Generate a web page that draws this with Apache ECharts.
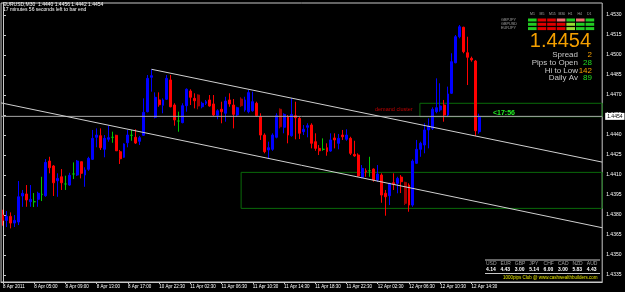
<!DOCTYPE html>
<html><head><meta charset="utf-8">
<script src="https://cdn.jsdelivr.net/npm/echarts@6/dist/echarts.min.js"></script>
<style>html,body{margin:0;padding:0;background:#000;}#c{width:625px;height:292px;}</style>
</head><body><div id="c"></div>
<script>
// ---- data ----
const shiftBars = 31;       // empty chart shift on the right
// [open, close, low, high]
const ohlc = [
[1.43800,1.43760,1.43720,1.43840],[1.43760,1.43790,1.43710,1.43830],[1.43790,1.43740,1.43700,1.43820],[1.43740,1.43760,1.43710,1.43800],
[1.43748,1.43937,1.43725,1.44055],[1.43943,1.43963,1.43862,1.43988],[1.43958,1.43913,1.43862,1.44025],[1.43900,1.43918,1.43862,1.44025],
[1.43900,1.43900,1.43860,1.43965],[1.43918,1.43963,1.43862,1.43975],[1.43955,1.43955,1.43905,1.44087],[1.43945,1.44195,1.43937,1.44220],
[1.44205,1.44155,1.44113,1.44237],[1.44168,1.44042,1.43943,1.44175],[1.44057,1.44075,1.43937,1.44113],[1.44087,1.44042,1.43988,1.44145],
[1.44033,1.44033,1.43988,1.44095],[1.44025,1.44098,1.44020,1.44117],[1.44108,1.44108,1.44070,1.44195],[1.44100,1.44205,1.44093,1.44213],
[1.44200,1.44113,1.44075,1.44200],[1.44100,1.44138,1.44012,1.44158],[1.44143,1.44225,1.44132,1.44237],[1.44218,1.44375,1.44213,1.44438],
[1.44383,1.44400,1.44308,1.44450],[1.44395,1.44305,1.44288,1.44450],[1.44293,1.44375,1.44233,1.44400],[1.44368,1.44380,1.44350,1.44470],
[1.44383,1.44383,1.44342,1.44425],[1.44398,1.44282,1.44280,1.44402],[1.44275,1.44222,1.44183,1.44288],[1.44233,1.44333,1.44230,1.44338],
[1.44342,1.44400,1.44308,1.44438],[1.44398,1.44398,1.44357,1.44438],[1.44383,1.44340,1.44333,1.44443],[1.44353,1.44380,1.44325,1.44393],
[1.44398,1.44570,1.44393,1.44675],[1.44575,1.44825,1.44570,1.44850],[1.44833,1.44845,1.44725,1.44893],[1.44533,1.44683,1.44525,1.44720],
[1.44663,1.44627,1.44612,1.44720],[1.44623,1.44663,1.44563,1.44675],[1.44668,1.44825,1.44663,1.44850],[1.44813,1.44612,1.44608,1.44850],
[1.44625,1.44513,1.44470,1.44638],[1.44505,1.44505,1.44425,1.44575],[1.44493,1.44620,1.44488,1.44638],[1.44620,1.44743,1.44575,1.44750],
[1.44730,1.44683,1.44625,1.44743],[1.44675,1.44657,1.44600,1.44713],[1.44700,1.44618,1.44593,1.44705],[1.44612,1.44638,1.44600,1.44650],
[1.44638,1.44650,1.44625,1.44663],[1.44663,1.44618,1.44612,1.44700],[1.44633,1.44550,1.44543,1.44700],[1.44548,1.44582,1.44518,1.44593],
[1.44593,1.44575,1.44488,1.44650],[1.44563,1.44655,1.44500,1.44687],[1.44663,1.44633,1.44612,1.44713],[1.44625,1.44555,1.44450,1.44670],
[1.44550,1.44605,1.44537,1.44612],[1.44670,1.44620,1.44612,1.44683],[1.44588,1.44663,1.44575,1.44687],[1.44575,1.44718,1.44563,1.44738],
[1.44582,1.44650,1.44575,1.44725],[1.44638,1.44545,1.44537,1.44650],[1.44537,1.44400,1.44363,1.44563],[1.44400,1.44275,1.44263,1.44413],
[1.44288,1.44305,1.44225,1.44350],[1.44293,1.44400,1.44282,1.44413],[1.44383,1.44545,1.44375,1.44563],[1.44593,1.44462,1.44450,1.44600],
[1.44458,1.44555,1.44413,1.44563],[1.44537,1.44400,1.44338,1.44550],[1.44395,1.44555,1.44387,1.44675],[1.44545,1.44530,1.44368,1.44650],
[1.44525,1.44413,1.44370,1.44537],[1.44425,1.44443,1.44400,1.44475],[1.44458,1.44470,1.44383,1.44488],[1.44475,1.44338,1.44300,1.44488],
[1.44350,1.44300,1.44282,1.44413],[1.44300,1.44282,1.44250,1.44325],[1.44293,1.44293,1.44282,1.44375],[1.44305,1.44275,1.44245,1.44338],
[1.44280,1.44363,1.44275,1.44413],[1.44378,1.44363,1.44300,1.44413],[1.44338,1.44375,1.44293,1.44408],[1.44400,1.44387,1.44363,1.44438],
[1.44368,1.44400,1.44357,1.44443],[1.44375,1.44263,1.44250,1.44387],[1.44255,1.44243,1.44237,1.44357],[1.44250,1.44093,1.44087,1.44263],
[1.44083,1.44150,1.44075,1.44175],[1.44132,1.44125,1.44087,1.44150],[1.44132,1.44132,1.44087,1.44237],[1.44145,1.44063,1.44050,1.44150],
[1.44063,1.44108,1.44050,1.44175],[1.44100,1.43950,1.43892,1.44113],[1.43963,1.43937,1.43795,1.43988],[1.43945,1.44038,1.43875,1.44042],
[1.44042,1.44033,1.43988,1.44113],[1.44038,1.44075,1.43963,1.44087],[1.44085,1.44050,1.43965,1.44100],[1.44045,1.43888,1.43875,1.44050],
[1.44025,1.43875,1.43825,1.44038],[1.43875,1.44205,1.43862,1.44218],[1.44188,1.44293,1.44183,1.44363],[1.44293,1.44338,1.44237,1.44350],
[1.44325,1.44438,1.44263,1.44488],[1.44438,1.44468,1.44300,1.44525],[1.44450,1.44593,1.44438,1.44608],[1.44575,1.44605,1.44563,1.44825],
[1.44588,1.44618,1.44575,1.44788],[1.44625,1.44550,1.44500,1.44663],[1.44550,1.44708,1.44537,1.44763],[1.44713,1.44950,1.44708,1.45013],
[1.44942,1.45137,1.44938,1.45150],[1.45137,1.45212,1.45125,1.45225],[1.45208,1.45025,1.45013,1.45212],[1.45017,1.44983,1.44775,1.45137],
[1.44975,1.44963,1.44950,1.44988],[1.44955,1.44432,1.44393,1.44963],[1.44425,1.44540,1.44410,1.44560]
];
const dimBars = [51,62,72,104];   // 1-based positions in ohlc drawn in dark red
const priceTicks = [1.4335,1.4350,1.4365,1.4380,1.4395,1.4410,1.4425,1.4440,1.4455,1.4470,1.4485,1.4500,1.4515,1.4530];
const timeTicks = {0:'8 Apr 2011',8:'8 Apr 05:00',16:'8 Apr 09:00',24:'8 Apr 13:00',32:'8 Apr 17:00',40:'10 Apr 22:30',
  48:'11 Apr 02:30',56:'11 Apr 06:30',64:'11 Apr 10:30',72:'11 Apr 14:30',80:'11 Apr 18:30',88:'11 Apr 22:30',
  96:'12 Apr 02:30',104:'12 Apr 06:30',112:'12 Apr 10:30',120:'12 Apr 14:30'};
const bid = 1.4454;
// trend lines: [barIndex, price]
const trendUpper = [[38.05,1.44893],[153.5,1.44197]];
const trendLower = [[-0.5,1.44641],[153.5,1.43705]];
const zoneLow = {from:[61.0,1.4412], to:[153.5,1.4385]};
const zoneDemand = {from:[106.8,1.44638], to:[153.5,1.44537]};
const strengthCur = ['USD','EUR','GBP','JPY','CHF','CAD','NZD','AUD'];
const strengthVal = ['4.14','4.43','3.00','5.14','6.00','3.00','5.83','4.43'];
const tfHeads = ['M1','M5','M15','M30','H1','H4','D1'];
const tfPairs = ['GBPJPY','GBPUSD','EURJPY'];
const tfState = [[1,-1,-1,-2,1,-2,1],[1,-1,-1,-1,2,1,1],[1,-1,-1,-1,2,1,1]];

// ---- build ----
const total = ohlc.length + shiftBars;
const cats = Array.from({length:total}, (_, i) => String(i));
const seriesData = [];
ohlc.forEach((d, k) => {
  const item = {value: d};
  if (d[0] === d[1]) item.itemStyle = {color:'#00c800', color0:'#00c800', borderColor:'#00c800', borderColor0:'#00c800', borderColorDoji:'#00c800'};
  else if (dimBars.includes(k + 1)) item.itemStyle = {color:'#a00000', color0:'#a00000', borderColor:'#a00000', borderColor0:'#a00000'};
  seriesData.push(item);
});

const FONT = 'Liberation Sans, Arial, sans-serif';
const chart = echarts.init(document.getElementById('c'), null, {renderer:'canvas', width:625, height:292});

const graphic = [
  {type:'text', left:3, top:2, style:{text:'EURUSD,M30  1.4440 1.4456 1.4442 1.4454', fill:'#fff', font:'5px '+FONT}},
  {type:'text', left:3, top:7.5, style:{text:'17 minutes 56 seconds left to bar end', fill:'#fff', font:'5px '+FONT}},
  {type:'text', right:34, top:31, style:{text:'1.4454', fill:'#f5a000', font:'20px '+FONT, align:'right'}},
  {type:'text', right:47, top:51, style:{text:'Spread', fill:'#c8c8c8', font:'8px '+FONT}},
  {type:'text', right:47, top:59, style:{text:'Pips to Open', fill:'#c8c8c8', font:'8px '+FONT}},
  {type:'text', right:47, top:66.5, style:{text:'Hi to Low', fill:'#c8c8c8', font:'8px '+FONT}},
  {type:'text', right:47, top:74, style:{text:'Daily Av', fill:'#c8c8c8', font:'8px '+FONT}},
  {type:'text', right:33, top:51, style:{text:'2', fill:'#f5a000', font:'8px '+FONT}},
  {type:'text', right:33, top:59, style:{text:'28', fill:'#22dd22', font:'8px '+FONT}},
  {type:'text', right:33, top:66.5, style:{text:'142', fill:'#f5a000', font:'8px '+FONT}},
  {type:'text', right:33, top:74, style:{text:'89', fill:'#22dd22', font:'8px '+FONT}},
  {type:'text', left:375, top:106, style:{text:'demand cluster', fill:'#c00000', font:'5.5px '+FONT}},
  {type:'text', left:493, top:110, style:{text:'<17:56', fill:'#22ee22', font:'bold 7px '+FONT}},
  {type:'line', shape:{x1:485,y1:260,x2:600,y2:260}, style:{stroke:'#c8c8c8', lineWidth:1}},
  {type:'line', shape:{x1:485,y1:273.5,x2:600,y2:273.5}, style:{stroke:'#c8c8c8', lineWidth:1}},
  {type:'text', left:503, top:275, style:{text:'1000pips Club @ www.cashwealthbuilders.com', fill:'#e6e600', font:'4.5px '+FONT}}
];
strengthCur.forEach((c, i) => {
  graphic.push({type:'text', left:486 + i*14.4, top:261.5, style:{text:c, fill:'#a0a0a0', font:'5px '+FONT}});
  graphic.push({type:'text', left:486 + i*14.4, top:267.5, style:{text:strengthVal[i], fill:'#fff', font:'bold 5px '+FONT}});
});
const cellCol = {'1':'#22cc22','-1':'#e00000','-2':'#f07070','2':'#99dd33'};
tfHeads.forEach((h, j) => {
  graphic.push({type:'text', left:530 + j*9.5, top:12.5, style:{text:h, fill:'#a0a0a0', font:'3.5px '+FONT}});
});
tfPairs.forEach((p, r) => {
  graphic.push({type:'text', left:501, top:17.5 + r*4.3, style:{text:p, fill:'#a0a0a0', font:'3.8px '+FONT}});
  tfState[r].forEach((s, j) => {
    graphic.push({type:'rect', shape:{x:528 + j*9.6, y:18.5 + r*4.3, width:8.6, height:3}, style:{fill:cellCol[String(s)]}});
  });
});

chart.setOption({
  backgroundColor:'#000',
  animation:false,
  grid:{left:0.72, right:22.8, top:3, bottom:10, show:true, borderColor:'#c8c8c8', borderWidth:1, backgroundColor:'#000'},
  xAxis:[{
    type:'category', data:cats, boundaryGap:true,
    axisLine:{show:true, lineStyle:{color:'#c8c8c8'}},
    axisTick:{show:true, alignWithLabel:true, length:2, interval:(i)=>timeTicks[i]!==undefined, lineStyle:{color:'#c8c8c8'}},
    axisLabel:{show:true, interval:(i)=>timeTicks[i]!==undefined, formatter:(v,i)=>timeTicks[i]||'', align:'left', margin:2, fontSize:4.5, color:'#fff', fontFamily:FONT},
    splitLine:{show:false}
  },{
    type:'value', min:-0.5, max:total-0.5, show:false
  }],
  yAxis:{
    type:'value', position:'right', min:1.43298, max:1.4539, scale:true,
    axisLine:{show:true, lineStyle:{color:'#c8c8c8'}},
    axisTick:{show:true, length:3, customValues:priceTicks, lineStyle:{color:'#c8c8c8'}},
    axisLabel:{show:true, customValues:priceTicks, formatter:(v)=>v.toFixed(4), margin:4, fontSize:5, color:'#fff', fontFamily:FONT},
    splitLine:{show:false}
  },
  graphic: graphic,
  series:[{
    type:'candlestick', data:seriesData, barWidth:2.4,
    itemStyle:{color:'#0000ff', color0:'#ff0000', borderColor:'#0000ff', borderColor0:'#ff0000', borderWidth:1}
  },{
    type:'line', xAxisIndex:1, data:[[-0.5,bid],[total-0.5,bid]], symbol:'none', silent:true,
    lineStyle:{color:'#a8a8a8', width:1},
    endLabel:{show:true, formatter:bid.toFixed(4), backgroundColor:'#fff', color:'#000', fontSize:5, padding:[1,2], distance:3, fontFamily:FONT}
  },{
    type:'line', xAxisIndex:1, data:trendUpper, symbol:'none', silent:true,
    lineStyle:{color:'#d0d0d0', width:1}
  },{
    type:'line', xAxisIndex:1, data:trendLower, symbol:'none', silent:true,
    lineStyle:{color:'#d0d0d0', width:1}
  },{
    type:'line', xAxisIndex:1, data:[], silent:true,
    markArea:{silent:true, itemStyle:{color:'rgba(0,0,0,0)', borderColor:'#0a6a0a', borderWidth:1},
      data:[[{coord:zoneLow.from},{coord:zoneLow.to}],[{coord:zoneDemand.from},{coord:zoneDemand.to}]]}
  }]
});
</script></body></html>
